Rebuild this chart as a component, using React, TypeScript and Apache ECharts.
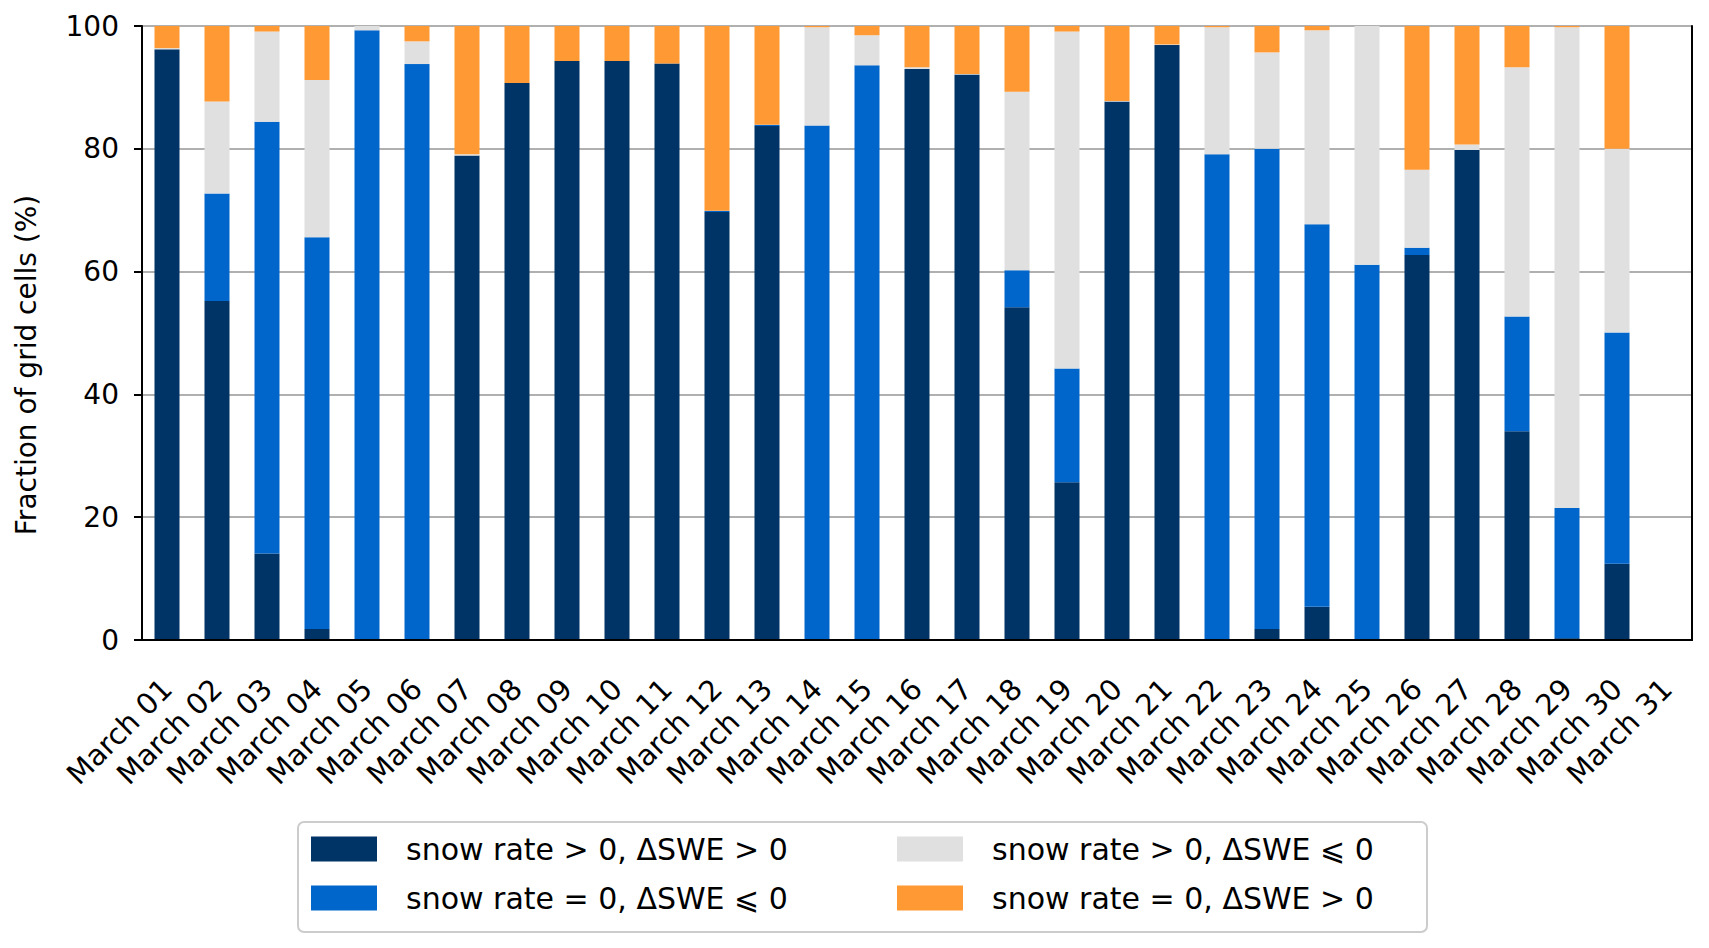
import React, { useEffect, useRef } from 'react';
import * as echarts from 'echarts';

// Days of March (March 31 has no data)
const days = [
  'March 01', 'March 02', 'March 03', 'March 04', 'March 05', 'March 06', 'March 07', 'March 08',
  'March 09', 'March 10', 'March 11', 'March 12', 'March 13', 'March 14', 'March 15', 'March 16',
  'March 17', 'March 18', 'March 19', 'March 20', 'March 21', 'March 22', 'March 23', 'March 24',
  'March 25', 'March 26', 'March 27', 'March 28', 'March 29', 'March 30', 'March 31'
];

// snow rate > 0, ΔSWE > 0
const snowGain = [
  96.2, 55.2, 14.1, 1.8, 0, 0, 78.9, 90.7, 94.3, 94.3, 93.9, 69.7, 83.7, 0, 0, 93.0,
  92.1, 54.2, 25.7, 87.7, 96.9, 0, 1.8, 5.4, 0, 62.7, 79.8, 34.0, 0.3, 12.4, null
];
// snow rate = 0, ΔSWE ⩽ 0
const noSnowLoss = [
  0, 17.5, 70.3, 63.8, 99.3, 93.8, 0, 0, 0, 0, 0, 0.2, 0.2, 83.8, 93.6, 0,
  0, 6.0, 18.5, 0, 0, 79.1, 78.2, 62.3, 61.1, 1.2, 0, 18.7, 21.2, 37.7, null
];
// snow rate > 0, ΔSWE ⩽ 0
const snowLoss = [
  0.2, 15.0, 14.7, 25.6, 0.7, 3.7, 0.2, 0, 0, 0, 0, 0, 0, 16.0, 4.9, 0.3,
  0.1, 29.1, 54.9, 0.1, 0.1, 20.7, 15.7, 31.6, 38.9, 12.7, 0.9, 40.6, 78.3, 29.9, null
];
// snow rate = 0, ΔSWE > 0
const noSnowGain = [
  3.6, 12.3, 0.9, 8.8, 0, 2.5, 20.9, 9.3, 5.7, 5.7, 6.1, 30.1, 16.1, 0.2, 1.5, 6.7,
  7.8, 10.7, 0.9, 12.2, 3.0, 0.2, 4.3, 0.7, 0, 23.4, 19.3, 6.7, 0.2, 20.0, null
];

const yTicks = { min: 0, max: 100, interval: 20 };

const names = [
  'snow rate > 0, ΔSWE > 0',
  'snow rate = 0, ΔSWE ⩽ 0',
  'snow rate > 0, ΔSWE ⩽ 0',
  'snow rate = 0, ΔSWE > 0'
];
const colors = ['#003366', '#0066CC', '#E0E0E0', '#FF9933'];

const FONT = 'DejaVu Sans';
const GRID = { left: 142, right: 17, top: 26, bottom: 308 };

const App: React.FC = () => {
  const chartRef = useRef<HTMLDivElement>(null);

  useEffect(() => {
    if (!chartRef.current) return;
    const chart = echarts.init(chartRef.current, null, { renderer: 'svg' });

    const seriesData = [snowGain, noSnowLoss, snowLoss, noSnowGain];

    const legendText = {
      fontFamily: FONT,
      fontSize: 30,
      color: '#000',
      lineHeight: 30,
      padding: [0, 0, 0, 24]
    };
    const legendBase = {
      orient: 'vertical' as const,
      top: 834,
      icon: 'rect',
      itemWidth: 66,
      itemHeight: 25,
      itemGap: 19,
      padding: 0,
      textStyle: legendText,
      selectedMode: false
    };

    const option: echarts.EChartsOption = {
      animation: false,
      backgroundColor: '#fff',
      textStyle: { fontFamily: FONT },
      grid: { ...GRID },
      legend: [
        { ...legendBase, data: [names[0], names[1]], left: 311 },
        { ...legendBase, data: [names[2], names[3]], left: 897 }
      ],
      graphic: [
        {
          type: 'rect',
          z: 0,
          shape: { x: 298, y: 822, width: 1129, height: 110, r: 6 },
          style: { fill: '#fff', stroke: '#cccccc', lineWidth: 2 }
        }
      ],
      xAxis: [
        {
          type: 'category',
          data: days,
          z: 10,
          axisLine: { lineStyle: { color: '#000', width: 2 } },
          axisTick: { alignWithLabel: true, length: 8, lineStyle: { color: '#000', width: 2 } },
          axisLabel: {
            interval: 0,
            rotate: 45,
            margin: 44,
            fontSize: 29,
            color: '#000',
            fontFamily: FONT
          },
          splitLine: { show: false }
        },
        {
          type: 'category',
          data: days,
          position: 'top',
          z: 10,
          axisLine: { lineStyle: { color: '#000', width: 2 } },
          axisTick: { show: false },
          axisLabel: { show: false },
          splitLine: { show: false }
        }
      ],
      yAxis: [
        {
          type: 'value',
          ...yTicks,
          name: 'Fraction of grid cells (%)',
          nameLocation: 'middle',
          nameGap: 102,
          nameTextStyle: {
            fontSize: 28,
            color: '#000',
            fontFamily: FONT,
            padding: [0, 64, 0, 0]
          },
          axisLine: { show: true, lineStyle: { color: '#000', width: 2 } },
          axisTick: { show: true, length: 8, lineStyle: { color: '#000', width: 2 } },
          axisLabel: { margin: 23, fontSize: 28, color: '#000', fontFamily: FONT },
          splitLine: { show: true, lineStyle: { color: '#b0b0b0', width: 2 } }
        },
        {
          type: 'value',
          ...yTicks,
          position: 'right',
          z: 10,
          axisLine: { show: true, lineStyle: { color: '#000', width: 2 } },
          axisTick: { show: false },
          axisLabel: { show: false },
          splitLine: { show: false }
        }
      ],
      series: seriesData.map((data, i) => ({
        name: names[i],
        type: 'bar',
        stack: 'total',
        barWidth: '50%',
        data,
        itemStyle: { color: colors[i] },
        emphasis: { disabled: true }
      }))
    };

    chart.setOption(option);

    const handleResize = () => chart.resize();
    window.addEventListener('resize', handleResize);
    return () => {
      window.removeEventListener('resize', handleResize);
      chart.dispose();
    };
  }, []);

  return (
    <div
      ref={chartRef}
      style={{ position: 'absolute', left: 0, top: 0, width: 1709, height: 948 }}
    />
  );
};

export default App;
